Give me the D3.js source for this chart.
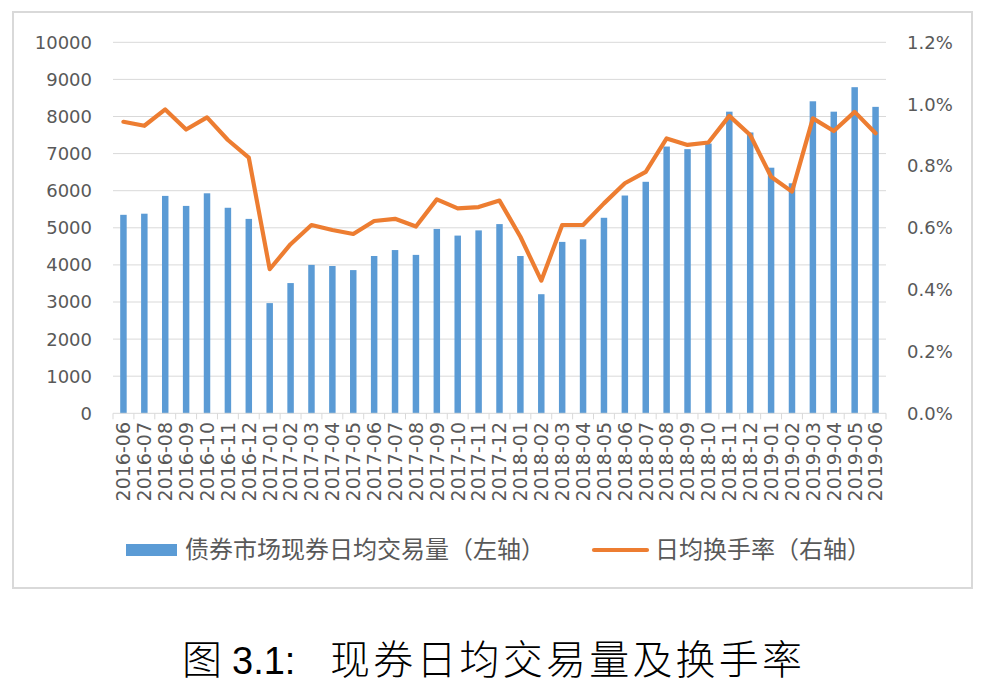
<!DOCTYPE html>
<html><head><meta charset="utf-8">
<script src="https://cdn.jsdelivr.net/npm/d3@7"></script>
<style>body{margin:0;background:#fff}svg{display:block}</style>
</head><body><svg id="c" width="987" height="686"></svg>
<script>
const months = ["2016-06","2016-07","2016-08","2016-09","2016-10","2016-11","2016-12",
"2017-01","2017-02","2017-03","2017-04","2017-05","2017-06","2017-07","2017-08","2017-09","2017-10","2017-11","2017-12",
"2018-01","2018-02","2018-03","2018-04","2018-05","2018-06","2018-07","2018-08","2018-09","2018-10","2018-11","2018-12",
"2019-01","2019-02","2019-03","2019-04","2019-05","2019-06"];
const volume = [5350,5380,5860,5590,5930,5540,5240,
2970,3510,4000,3970,3860,4240,4400,4270,4970,4790,4930,5100,
4240,3210,4620,4690,5270,5870,6240,7190,7120,7270,8130,7570,
6620,6200,8410,8130,8790,8260];
const turnover = [0.943,0.930,0.983,0.918,0.957,0.884,0.827,
0.466,0.547,0.609,0.593,0.580,0.622,0.629,0.604,0.692,0.663,0.667,0.688,
0.571,0.429,0.609,0.609,0.679,0.744,0.781,0.889,0.868,0.876,0.962,0.900,
0.765,0.717,0.954,0.913,0.975,0.906];
const leftTicks = [0,1000,2000,3000,4000,5000,6000,7000,8000,9000,10000];
const rightTicks = [0,0.2,0.4,0.6,0.8,1.0,1.2];
const legendBar = "债券市场现券日均交易量（左轴）";
const legendLine = "日均换手率（右轴）";
const titleParts = ["图","3.1:","现券日均交易量及换手率"];

const svg = d3.select("#c");
const L=113, R=886, T=42.3, B=413.3;
const x = d3.scaleBand().domain(months).range([L,R]).padding(0);
const yL = d3.scaleLinear().domain([0,10000]).range([B,T]);
const yR = d3.scaleLinear().domain([0,1.2]).range([B,T]);
const grey="#d9d9d9", txt="#595959";
const numFont="DejaVu Sans, sans-serif", cjk="'Noto Sans CJK SC', sans-serif";

// frame
svg.append("rect").attr("x",13).attr("y",12).attr("width",959).attr("height",576)
  .attr("fill","#fff").attr("stroke",grey).attr("stroke-width",2);

// gridlines
svg.append("g").selectAll("line").data(leftTicks.slice(1)).join("line")
  .attr("x1",L).attr("x2",R).attr("y1",d=>yL(d)).attr("y2",d=>yL(d))
  .attr("stroke",grey).attr("stroke-width",1);

// left axis labels
svg.append("g").selectAll("text").data(leftTicks).join("text")
  .attr("x",92).attr("y",d=>yL(d)).attr("dy","0.36em").attr("text-anchor","end")
  .attr("font-family",numFont).attr("font-size",18).attr("fill",txt).text(d=>d);

// right axis labels
svg.append("g").selectAll("text").data(rightTicks).join("text")
  .attr("x",907).attr("y",d=>yR(d)).attr("dy","0.36em").attr("text-anchor","start")
  .attr("font-family",numFont).attr("font-size",18).attr("fill",txt).text(d=>d.toFixed(1)+"%");

// bars
const bw = x.bandwidth()*0.31;
svg.append("g").selectAll("rect").data(volume).join("rect")
  .attr("x",(d,i)=>x(months[i])+x.bandwidth()/2-bw/2).attr("width",bw)
  .attr("y",d=>yL(d)).attr("height",d=>B-yL(d)).attr("fill","#5b9bd5");

// x axis line and ticks
svg.append("line").attr("x1",L).attr("x2",R).attr("y1",B).attr("y2",B).attr("stroke",grey).attr("stroke-width",1);
svg.append("g").selectAll("line").data(months.concat(["end"])).join("line")
  .attr("x1",(d,i)=>L+i*x.step()).attr("x2",(d,i)=>L+i*x.step())
  .attr("y1",B).attr("y2",B+6).attr("stroke",grey).attr("stroke-width",1);

// x labels
svg.append("g").selectAll("text").data(months).join("text")
  .attr("transform",d=>`translate(${x(d)+x.bandwidth()/2},422) rotate(-90)`)
  .attr("dy","0.36em").attr("text-anchor","end")
  .attr("font-family",numFont).attr("font-size",19).attr("fill",txt).text(d=>d);

// line
const line = d3.line().x((d,i)=>x(months[i])+x.bandwidth()/2).y(d=>yR(d));
svg.append("path").datum(turnover).attr("d",line).attr("fill","none")
  .attr("stroke","#ed7d31").attr("stroke-width",4.2).attr("stroke-linejoin","round").attr("stroke-linecap","round");

// legend
svg.append("rect").attr("x",126).attr("y",544).attr("width",51).attr("height",12).attr("fill","#5b9bd5");
svg.append("text").attr("x",185).attr("y",558).attr("font-family",cjk).attr("font-size",24)
  .attr("fill",txt).text(legendBar);
svg.append("line").attr("x1",594).attr("x2",647).attr("y1",550).attr("y2",550)
  .attr("stroke","#ed7d31").attr("stroke-width",4.2).attr("stroke-linecap","round");
svg.append("text").attr("x",655).attr("y",558).attr("font-family",cjk).attr("font-size",24)
  .attr("fill",txt).text(legendLine);

// title
svg.append("text").attr("x",182).attr("y",674).attr("font-family",cjk).attr("font-size",40).attr("font-weight",300)
  .attr("fill","#000").text(titleParts[0]);
svg.append("text").attr("x",232).attr("y",674).attr("font-family","Liberation Sans, sans-serif").attr("font-size",38)
  .attr("fill","#000").text(titleParts[1]);
svg.append("text").attr("x",330).attr("y",674).attr("font-family",cjk).attr("font-size",40).attr("font-weight",300)
  .attr("letter-spacing",3.2).attr("fill","#000").text(titleParts[2]);
</script></body></html>
